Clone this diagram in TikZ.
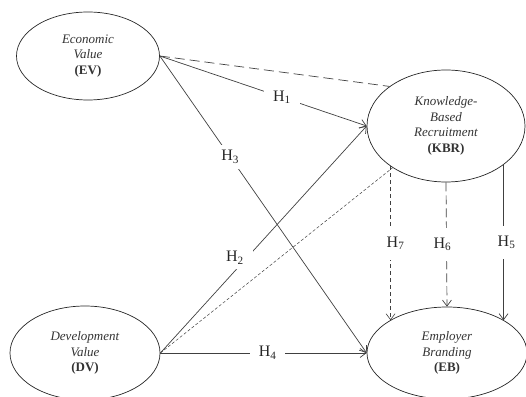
\documentclass[tikz,border=0pt]{standalone}
\usepackage{fontspec}
\setmainfont{Liberation Serif}
\usetikzlibrary{shapes.geometric,arrows.meta}
\begin{document}
\begin{tikzpicture}[x=1pt,y=1pt,
    construct/.style={ellipse,draw=black!85,line width=.7pt,inner sep=0pt,align=center,
      text=black!80,font=\fontsize{13}{15.5}\selectfont},
    link/.style={draw=black!75,line width=.7pt},
    arr/.style={-{Straight Barb[length=6pt,width=9pt]}},
    hyp/.style={fill=white,inner xsep=9pt,inner ysep=5pt,text=black!85,
      font=\fontsize{16}{18}\selectfont},
    vhyp/.style={hyp,inner xsep=3pt,inner ysep=10pt}]
    \useasboundingbox (0,0) rectangle (526,396);
    % constructs
    \node[construct,minimum width=143pt,minimum height=88pt] (ev) at (88,340)
        {\textit{Economic}\\\textit{Value}\\\textbf{(EV)}};
    \node[construct,minimum width=158pt,minimum height=112pt] (kbr) at (446,270)
        {\textit{Knowledge-}\\\textit{Based}\\\textit{Recruitment}\\\textbf{(KBR)}};
    \node[construct,minimum width=150pt,minimum height=94pt] (dv) at (85,43)
        {\textit{Development}\\\textit{Value}\\\textbf{(DV)}};
    \node[construct,minimum width=160pt,minimum height=92pt] (eb) at (447,43)
        {\textit{Employer}\\\textit{Branding}\\\textbf{(EB)}};
    % paths
    \draw[link,dash pattern=on 10pt off 5pt] (ev.east) -- (kbr.145);
    \draw[link,arr] (ev.east) -- node[hyp,pos=.59] {H\textsubscript{1}} (kbr.west);
    \draw[link,arr] (ev.east) -- node[hyp,pos=.34] {H\textsubscript{3}} (eb.west);
    \draw[link,arr] (dv.east) -- node[hyp,pos=.42,xshift=-12pt] {H\textsubscript{2}} (kbr.west);
    \draw[link,line width=.5pt,dash pattern=on 3pt off 2pt] (dv.east) -- (kbr.218);
    \draw[link,arr] (dv.east) -- node[hyp,pos=.52] {H\textsubscript{4}} (eb.west);
    \draw[link,arr,line width=.6pt,dash pattern=on 4pt off 3pt] (kbr.216) --
        node[vhyp,pos=.5,xshift=5pt] {H\textsubscript{7}} (kbr.216 |- eb.150);
    \draw[link,arr,dash pattern=on 9pt off 4pt] (kbr.south) --
        node[vhyp,pos=.5,xshift=-4pt] {H\textsubscript{6}} (eb.north);
    \draw[link,arr] (kbr.326) --
        node[vhyp,pos=.5,xshift=3pt] {H\textsubscript{5}} (kbr.326 |- eb.30);
\end{tikzpicture}
\end{document}
